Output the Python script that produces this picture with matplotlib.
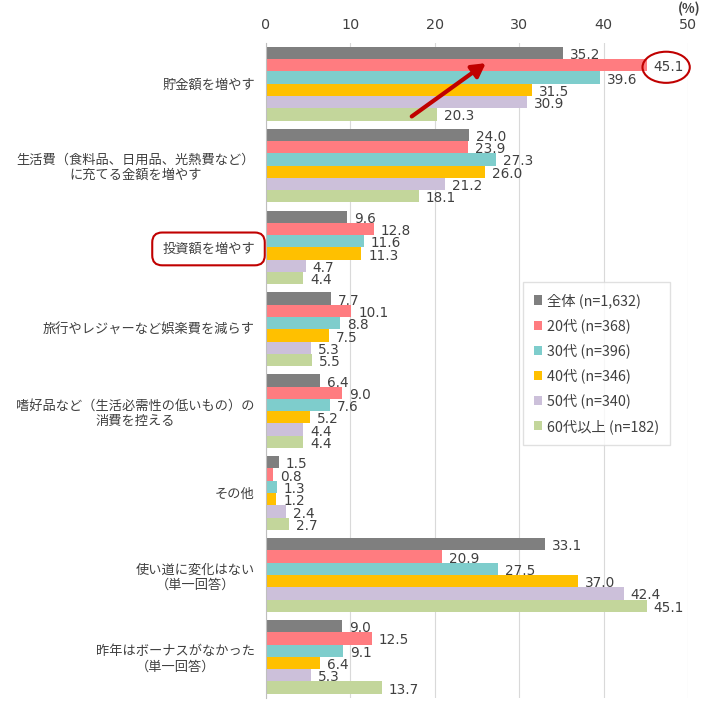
import numpy as np
import matplotlib.pyplot as plt
from matplotlib.patches import Ellipse

plt.rcParams['font.family'] = ['Noto Sans CJK JP', 'DejaVu Sans']

categories = [
    '貯金額を増やす',
    '生活費（食料品、日用品、光熱費など）\nに充てる金額を増やす',
    '投資額を増やす',
    '旅行やレジャーなど娯楽費を減らす',
    '嗜好品など（生活必需性の低いもの）の\n消費を控える',
    'その他',
    '使い道に変化はない\n（単一回答）',
    '昨年はボーナスがなかった\n（単一回答）',
]
series_names = ['全体 (n=1,632)', '20代 (n=368)', '30代 (n=396)',
                '40代 (n=346)', '50代 (n=340)', '60代以上 (n=182)']
all_ages = [35.2, 24.0, 9.6, 7.7, 6.4, 1.5, 33.1, 9.0]
age20 = [45.1, 23.9, 12.8, 10.1, 9.0, 0.8, 20.9, 12.5]
age30 = [39.6, 27.3, 11.6, 8.8, 7.6, 1.3, 27.5, 9.1]
age40 = [31.5, 26.0, 11.3, 7.5, 5.2, 1.2, 37.0, 6.4]
age50 = [30.9, 21.2, 4.7, 5.3, 4.4, 2.4, 42.4, 5.3]
age60 = [20.3, 18.1, 4.4, 5.5, 4.4, 2.7, 45.1, 13.7]
colors = ['#7f7f7f', '#ff7c80', '#7ecdcc', '#ffc000', '#ccc0da', '#c3d69b']

series = [all_ages, age20, age30, age40, age50, age60]
txt = '#404040'

fig = plt.figure(figsize=(7.16, 7.12), dpi=100)
ax = fig.add_axes([0.3715, 0.02, 0.5895, 0.92])

y = np.arange(len(categories))
h = 0.15
for k, (vals, name, c) in enumerate(zip(series, series_names, colors)):
    pos = y + (k - 2.5) * h
    ax.barh(pos, vals, height=h, color=c, label=name, zorder=2)
    for p, v in zip(pos, vals):
        ax.annotate(f'{v:.1f}', (v, p), xytext=(5, -1.5), textcoords='offset points',
                    va='center', ha='left', fontsize=9.8, color=txt,
                    family='DejaVu Sans', zorder=3)

ax.set_xlim(0, 50)
ax.set_ylim(len(categories) - 0.5, -0.5)
ax.set_xticks(range(0, 51, 10))
ax.xaxis.tick_top()
ax.tick_params(axis='x', length=0, labelsize=10.3, labelcolor=txt, pad=8)
ax.tick_params(axis='y', length=0, labelsize=9.5, labelcolor=txt, pad=8)
ax.set_yticks(y)
ax.set_yticklabels(categories, ha='right', multialignment='center')
for lab in ax.get_xticklabels():
    lab.set_family('DejaVu Sans')
ax.get_yticklabels()[2].set_bbox(dict(boxstyle='round,pad=0.75', fc='none',
                                      ec='#c00000', lw=1.5))
ax.grid(axis='x', color='#d9d9d9', lw=0.8, zorder=0)
for s in ['top', 'right', 'bottom']:
    ax.spines[s].set_visible(False)
ax.spines['left'].set_color('#bfbfbf')

fig.text(0.978, 0.997, '(%)', ha='right', va='top', fontsize=9.5, color=txt,
         fontweight='bold')

# highlight 20代 savings
ax.add_patch(Ellipse((47.4, -0.2), 5.6, 0.38, fill=False, ec='#c00000', lw=1.5,
                     clip_on=False, zorder=4))
ax.annotate('', xy=(26.3, -0.27), xytext=(17.0, 0.42),
            arrowprops=dict(arrowstyle='-|>,head_length=0.8,head_width=0.45',
                            color='#c00000', lw=3), zorder=4)

leg = ax.legend(loc='upper left', bbox_to_anchor=(0.609, 0.634), fontsize=10.3,
                handlelength=0.6, handleheight=0.6, handletextpad=0.35,
                labelspacing=0.72, frameon=True, fancybox=False,
                borderpad=0.75, borderaxespad=0, edgecolor='#d9d9d9')
for t in leg.get_texts():
    t.set_color(txt)

fig.savefig('out.png', dpi=100)
